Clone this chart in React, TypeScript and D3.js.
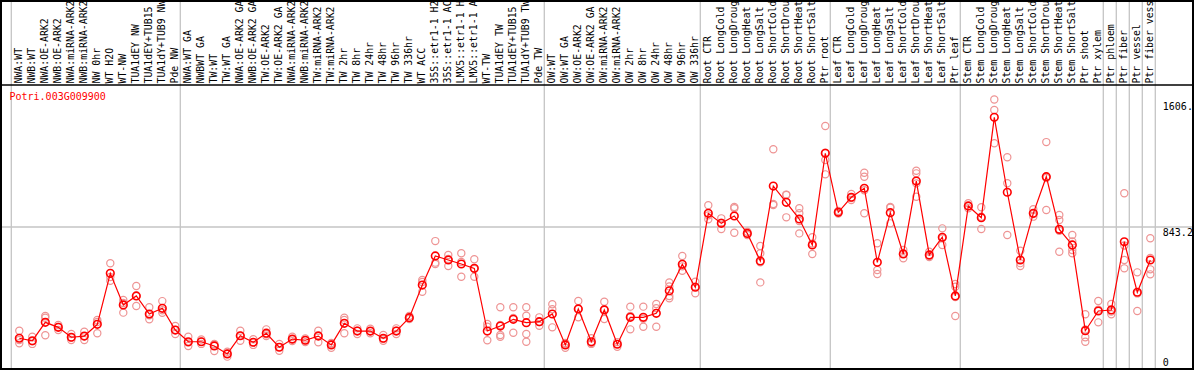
import { useEffect, useRef } from 'react';
import * as d3 from 'd3';

const geneId = 'Potri.003G009900';

// sample names, as far as the label column shows them
const categories = [
  'NWA:WT', 'NWB:WT', 'NWA:OE-ARK2', 'NWB:OE-ARK2', 'NWA:miRNA-ARK2', 'NWB:miRNA-ARK2',
  'NW 0hr', 'WT H2O', 'WT-NW', 'TUA1dEY NW', 'TUA1dEY+TUB15', 'TUA1dY+TUB9 NW', 'Pde NW',
  'NWA:WT GA', 'NWBWT GA', 'TW:WT', 'TW:WT GA', 'NWA:OE-ARK2 GA', 'NWB:OE-ARK2 GA',
  'TW:OE-ARK2', 'TW:OE-ARK2 GA', 'NWA:miRNA-ARK2', 'NWB:miRNA-ARK2', 'TW:miRNA-ARK2',
  'TW:miRNA-ARK2', 'TW 2hr', 'TW 8hr', 'TW 24hr', 'TW 48hr', 'TW 96hr', 'TW 336hr',
  'WT ACC', '35S::etr1-1 H2', '35S::etr1-1 AC', 'LMX5::etr1-1 H', 'LMX5::etr1-1 A',
  'WT-TW', 'TUA1dEY TW', 'TUA1dEY+TUB15', 'TUA1dY+TUB9 TW', 'Pde TW',
  'OW:WT', 'OW:WT GA', 'OW:OE-ARK2', 'OW:OE-ARK2 GA', 'OW:miRNA-ARK2', 'OW:miRNA-ARK2',
  'OW 2hr', 'OW 8hr', 'OW 24hr', 'OW 48hr', 'OW 96hr', 'OW 336hr',
  'Root CTR', 'Root LongCold', 'Root LongDroug', 'Root LongHeat', 'Root LongSalt',
  'Root ShortCold', 'Root ShortDrou', 'Root ShortHeat', 'Root ShortSalt', 'Ptr root',
  'Leaf CTR', 'Leaf LongCold', 'Leaf LongDroug', 'Leaf LongHeat', 'Leaf LongSalt',
  'Leaf ShortCold', 'Leaf ShortDrou', 'Leaf ShortHeat', 'Leaf ShortSalt', 'Ptr leaf',
  'Stem CTR', 'Stem LongCold', 'Stem LongDroug', 'Stem LongHeat', 'Stem LongSalt',
  'Stem ShortCold', 'Stem ShortDrou', 'Stem ShortHeat', 'Stem ShortSalt',
  'Ptr shoot', 'Ptr xylem', 'Ptr phloem', 'Ptr fiber', 'Ptr vessel', 'Ptr fiber vess',
];

// mean expression per sample
const meanValues = [
  178, 163, 273, 243, 184, 191, 261, 566, 377, 431, 323, 357, 227,
  157, 157, 132, 84, 193, 154, 208, 124, 173, 166, 191, 138, 267, 221, 221, 178, 221, 301,
  496, 670, 646, 622, 596, 221, 251, 291, 271, 277,
  323, 138, 353, 157, 347, 142, 303, 303, 327, 462, 620, 483,
  925, 865, 909, 805, 640, 1088, 991, 891, 736, 1284,
  931, 1021, 1075, 632, 929, 682, 1118, 676, 782, 431,
  969, 899, 1499, 1051, 646, 925, 1144, 829, 736,
  223, 341, 347, 755, 453, 646,
];

// individual replicates
const replicateValues = [
  [223, 148, 167], [187, 144, 160], [311, 301, 196], [257, 227, 245], [203, 167, 182],
  [217, 167, 189], [287, 208, 275], [626, 522, 544], [407, 331, 389], [490, 371, 431],
  [363, 291, 315], [400, 345, 330], [251, 203, 227], [187, 132, 152], [170, 144, 157],
  [144, 102, 140], [97, 68, 86], [223, 163, 193], [172, 138, 152], [231, 191, 202],
  [144, 103, 125], [187, 161, 171], [176, 155, 166], [223, 154, 196], [121, 150, 143],
  [301, 287, 208], [237, 203, 223], [235, 208, 220], [197, 163, 174], [237, 203, 223],
  [311, 293, 300], [526, 456, 514], [759, 622, 630], [676, 610, 652], [686, 546, 634],
  [650, 546, 592], [263, 247, 166], [363, 197, 187, 257], [363, 211, 299], [363, 313, 203, 157],
  [303, 253, 275], [381, 351, 243], [121, 150, 143], [401, 303, 355], [178, 144, 149],
  [396, 293, 352], [127, 155, 144], [367, 231, 311], [367, 247, 295], [383, 357, 247],
  [512, 431, 417, 488], [670, 582, 608], [516, 447, 486], [973, 889, 913], [895, 831, 869],
  [955, 809, 963], [815, 795, 805], [730, 686, 512, 632], [1308, 975, 981], [1035, 901, 1037],
  [955, 925, 805, 879], [782, 682, 744], [1447, 1244, 1158, 1287], [939, 924, 931], [1041, 1005, 1017],
  [1168, 1144, 925, 1063], [746, 586, 562], [959, 865, 963], [706, 656, 684], [1180, 1164, 1024, 1104],
  [695, 664, 670], [835, 736, 775], [502, 486, 311, 425], [985, 955, 967], [961, 831, 905],
  [1606.1, 1543, 1344], [1260, 1105, 795], [701, 610, 627], [949, 905, 921], [1351, 945, 1136],
  [915, 885, 695, 821], [795, 706, 686, 757], [321, 184, 157, 230], [401, 273, 349], [383, 321, 337],
  [1045, 646, 596, 733], [572, 341, 446], [776, 590, 560, 658],
];

// sample index where a new group starts (gray separators)
const groupBreaks = [0, 13, 41, 53, 63, 73, 84, 85, 86, 87, 88];

const yMax = 1606.1;
const yMid = 843.2;
const yLabels = ['1606.', '843.2', '0'];

const W = 1194;
const H = 370;
const FONT = '"DejaVu Sans Mono", monospace';

export default function App() {
  const svgRef = useRef<SVGSVGElement>(null);

  useEffect(() => {
    const svg = d3.select(svgRef.current);
    svg.selectAll('*').remove();

    const plotTop = 86;
    const plotBottom = 368;
    const step = 13;

    const x = d3.scaleBand<number>()
      .domain(d3.range(categories.length))
      .range([12.8, 12.8 + step * categories.length])
      .padding(0);
    const cx = (i: number) => (x(i) as number) + x.bandwidth() / 2;
    const lineX = (k: number) => 12.8 + k * step - 1.5;
    const plotRight = lineX(categories.length);

    const y = d3.scaleLinear()
      .domain([0, yMax * 1.05])
      .range([plotBottom, plotTop]);

    const grid = '#c4c4c4';

    // horizontal mid gridline
    svg.append('line')
      .attr('x1', 1).attr('x2', W - 2)
      .attr('y1', y(yMid)).attr('y2', y(yMid))
      .attr('stroke', grid).attr('stroke-width', 1.3);

    // group separators
    svg.append('g')
      .selectAll('line')
      .data(groupBreaks)
      .join('line')
      .attr('x1', d => lineX(d)).attr('x2', d => lineX(d))
      .attr('y1', 0).attr('y2', H)
      .attr('stroke', grid).attr('stroke-width', 1.3);

    // sample labels
    svg.append('g')
      .selectAll('text')
      .data(categories)
      .join('text')
      .attr('transform', (d, i) => `translate(${cx(i) + 2.8},83.5) rotate(-90)`)
      .attr('font-family', FONT)
      .attr('font-size', 9.85)
      .attr('fill', '#000')
      .text(d => d);

    // frame
    svg.append('rect')
      .attr('x', 1).attr('y', 1)
      .attr('width', W - 2).attr('height', H - 2)
      .attr('fill', 'none').attr('stroke', '#000').attr('stroke-width', 2);
    svg.append('line')
      .attr('x1', 0).attr('x2', W)
      .attr('y1', 85).attr('y2', 85)
      .attr('stroke', '#000').attr('stroke-width', 1.6);

    // y labels on the right
    const yPos = [y(yMax) + 11, y(yMid) + 9, y(0) - 2];
    svg.append('g')
      .selectAll('text')
      .data(yLabels)
      .join('text')
      .attr('x', plotRight + 7.5)
      .attr('y', (d, i) => yPos[i])
      .attr('font-family', FONT)
      .attr('font-size', 10)
      .attr('fill', '#000')
      .text(d => d);

    // gene name
    svg.append('text')
      .attr('x', 9.5).attr('y', 100)
      .attr('font-family', FONT)
      .attr('font-size', 10)
      .attr('fill', '#ff0000')
      .text(geneId);

    // replicates
    const reps = replicateValues.flatMap((vals, i) => vals.map(v => ({ i, v })));
    svg.append('g')
      .selectAll('circle')
      .data(reps)
      .join('circle')
      .attr('cx', d => cx(d.i))
      .attr('cy', d => y(d.v))
      .attr('r', 3.6)
      .attr('fill', 'none')
      .attr('stroke', '#ee9494')
      .attr('stroke-width', 1.2);

    // mean line
    const line = d3.line<number>()
      .x((d, i) => cx(i))
      .y(d => y(d));
    svg.append('path')
      .datum(meanValues)
      .attr('fill', 'none')
      .attr('stroke', '#ff0000')
      .attr('stroke-width', 1.2)
      .attr('d', line);

    svg.append('g')
      .selectAll('circle')
      .data(meanValues)
      .join('circle')
      .attr('cx', (d, i) => cx(i))
      .attr('cy', d => y(d))
      .attr('r', 3.8)
      .attr('fill', 'none')
      .attr('stroke', '#ff0000')
      .attr('stroke-width', 1.6);
  }, []);

  return (
    <svg
      ref={svgRef}
      width={W}
      height={H}
      style={{ position: 'absolute', left: 0, top: 0, background: '#fff' }}
    />
  );
}
